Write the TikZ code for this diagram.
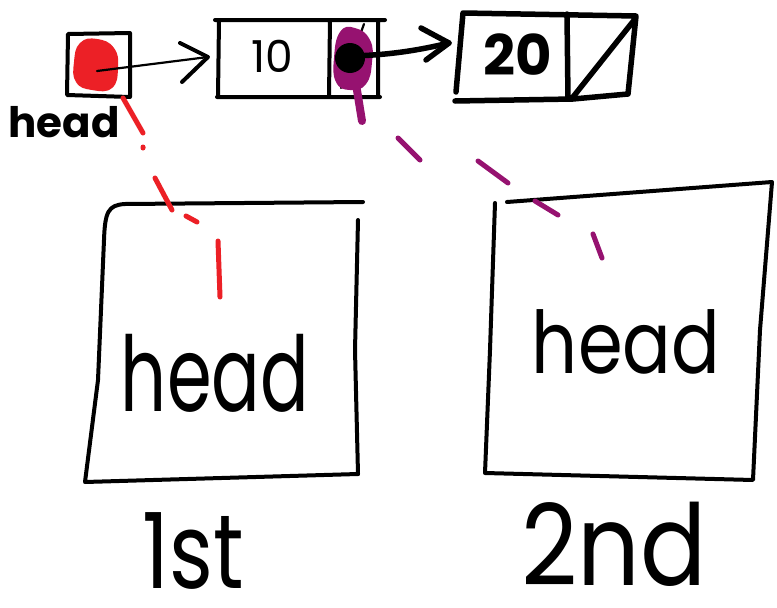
\documentclass[tikz,border=0pt]{standalone}
\usepackage{fontspec}
\setmainfont{Poppins}
\usetikzlibrary{arrows.meta}
\definecolor{inkred}{RGB}{236,32,38}
\definecolor{inkpurple}{RGB}{150,18,112}
\begin{document}
\begin{tikzpicture}[x=1pt,y=-1pt,
  ink/.style={line width=4pt,line cap=round,line join=round},
  heavyink/.style={line width=5.5pt,line cap=round,line join=round},
  thinink/.style={line width=2.2pt,line cap=round,line join=round},
  redink/.style={draw=inkred,line width=5pt,line cap=round},
  purpleink/.style={draw=inkpurple,line width=5pt,line cap=round},
  hand/.style={inner sep=0pt,anchor=base,text depth=0pt},
]
\useasboundingbox (0,0) rectangle (777,608);
\fill[white] (0,0) rectangle (777,608);

% ---- small head pointer box
\coordinate (hb) at (99,65);
\fill[inkred] plot[smooth cycle,tension=0.8] coordinates {(80,43) (97,39) (114,48) (118,68) (112,88) (92,90) (76,82) (74,62)};
\draw[ink] (68,34) -- (130,33) -- (130,97) -- (67,95) -- cycle;
\node[hand,font=\fontsize{42}{42}\selectfont\bfseries] (hl) at (64,137) {head};

% ---- node 10
\draw[ink] (215,20) -- (385,20) (219,20) -- (218,97) (217,97) -- (380,97)
  (330,20) -- (329,96) (378,21) -- (378,97);
\node[hand,font=\fontsize{44}{44}\selectfont] (n10) at (272,72) {10};
\coordinate (arrA) at (208,57);
\draw[thinink] (97,71) -- (arrA);
\draw[ink] (180,43) -- (arrA) -- (182,82);
\draw[thinink] (341,88) -- (364,24);
% pointer dot
\fill[inkpurple] plot[smooth cycle,tension=0.8] coordinates {(340,32) (355,28) (370,40) (372,62) (366,84) (350,90) (336,82) (334,58)};
\draw[purpleink,line width=8pt] (356,84) -- (362,121);
\fill[black] (350,58) circle [radius=15];
\coordinate (dot) at (352,56);

% ---- node 20
\coordinate (arrB) at (449,43);
\draw[heavyink] (dot) .. controls (390,55) and (420,50) .. (arrB);
\draw[heavyink] (421,28) -- (arrB) -- (426,60);
\draw[heavyink] (463,13) -- (636,16) -- (628,94) -- (573,99) -- (455,101)
  (463,13) -- (456,92) (567,14) -- (568,99) (573,97) -- (635,19);
\node[hand,font=\fontsize{56}{56}\selectfont\bfseries] (n20) at (518,75) {20};

% ---- first frame
\draw[ink] (363,202) -- (125,204) .. controls (108,205) and (105,212) .. (104,240)
  -- (98,380) -- (85,482) -- (358,474);
\draw[ink] (358,220) -- (355,350) -- (358,474);
\node[hand,font=\fontsize{72}{72}\selectfont,yscale=1.45] (h1) at (215,411) {head};

% ---- second frame
\draw[ink] (495,203) -- (490,350) -- (485,473) -- (753,480) -- (760,330) -- (772,182) -- (507,202);
\node[hand,font=\fontsize{72}{72}\selectfont,yscale=1.2] (h2) at (626,373) {head};

% ---- dashed links
\draw[redink] (123,98) -- (143,133) (143,147) -- (143,148) (155,178) -- (172,210)
  (186,216) -- (197,222) (218,241) -- (220,297);
\draw[purpleink] (398,138) -- (420,160) (478,161) -- (508,183) (535,201) -- (558,215) (593,234) -- (602,258);

% ---- labels
\node[hand,font=\fontsize{84}{84}\selectfont,yscale=1.25] (l1) at (193,588) {1st};
\node[hand,font=\fontsize{98}{98}\selectfont,yscale=1.15] (l2) at (614,585) {2nd};
\end{tikzpicture}
\end{document}
